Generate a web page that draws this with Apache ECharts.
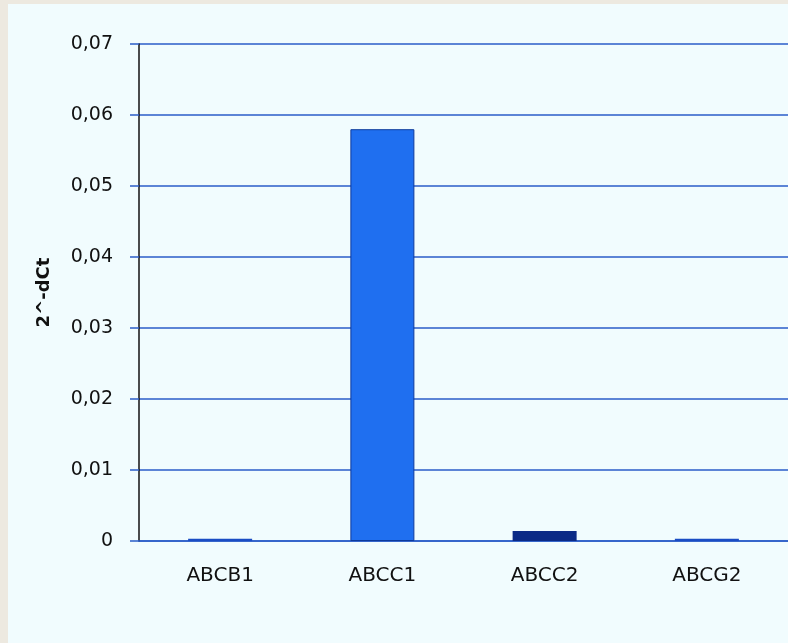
<!DOCTYPE html>
<html>
<head>
<meta charset="utf-8">
<script src="https://cdn.jsdelivr.net/npm/echarts@6/dist/echarts.min.js"></script>
<style>
	html, body { margin: 0; padding: 0; background: #ede9e0; }
	#chart { position: absolute; left: 8px; top: 4px; width: 780px; height: 639px; background: #f1fcfe; }
</style>
</head>
<body>
<div id="chart"></div>
<script>
// 数据
var categories = ['ABCB1', 'ABCC1', 'ABCC2', 'ABCG2'];
var values = [0.0003, 0.058, 0.0014, 0.0003];
var barColors = ['#1a4cc4', '#1f6ff0', '#0b2a86', '#1a4cc4'];
var yTicks = [0, 0.01, 0.02, 0.03, 0.04, 0.05, 0.06, 0.07];

var chart = echarts.init(document.getElementById('chart'));

var barData = [];
for (var i = 0; i < values.length; i++) {
	barData.push({
		value: values[i],
		itemStyle: {color: barColors[i], borderColor: '#0d3a9c', borderWidth: i == 1 ? 1 : 0}
	});
}

var option = {
	animation: false,
	grid: {left: 131, top: 40, right: -3, bottom: 102},
	xAxis: {
		type: 'category',
		data: categories,
		axisLine: {lineStyle: {color: '#2a5cc8', width: 1.5}},
		axisTick: {length: 6, lineStyle: {color: '#1d3f8a', width: 1.5}},
		axisLabel: {color: '#111', fontSize: 20, fontFamily: 'DejaVu Sans', margin: 25}
	},
	yAxis: {
		type: 'value',
		min: yTicks[0],
		max: yTicks[yTicks.length - 1],
		interval: 0.01,
		name: '2^-dCt',
		nameLocation: 'middle',
		nameGap: 86,
		nameRotate: 90,
		nameTextStyle: {color: '#111', fontSize: 18, fontWeight: 'bold', fontFamily: 'DejaVu Sans'},
		axisLine: {show: true, lineStyle: {color: '#111', width: 1.5}},
		axisTick: {show: true, length: 9, lineStyle: {color: '#2a5cc8', width: 1.5}},
		axisLabel: {
			color: '#111', fontSize: 19, fontFamily: 'DejaVu Sans', margin: 26,
			formatter: function (v) { return v == 0 ? '0' : v.toFixed(2).replace('.', ','); }
		},
		splitLine: {lineStyle: {color: '#2a5cc8', width: 1.5}}
	},
	series: [{
		type: 'bar',
		data: barData,
		barWidth: 64
	}]
};
chart.setOption(option);
</script>
</body>
</html>
